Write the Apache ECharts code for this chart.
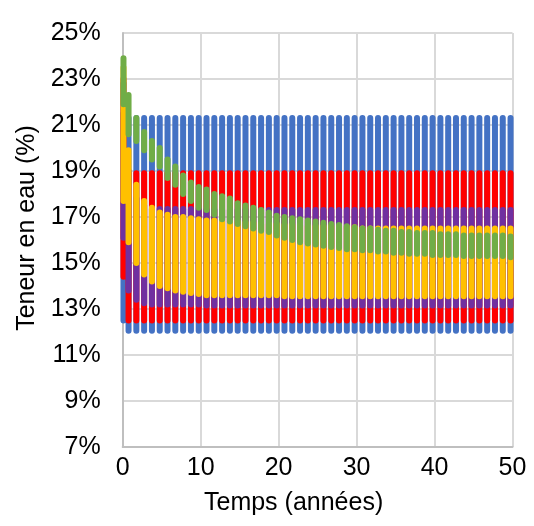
<!DOCTYPE html>
<html>
<head>
<meta charset="utf-8">
<script src="https://cdn.jsdelivr.net/npm/echarts@6/dist/echarts.min.js"></script>
<style>
html,body{margin:0;padding:0;background:#fff;}
#chart{width:534px;height:526px;}
</style>
</head>
<body>
<div id="chart"></div>
<script>
// Time (years) of each annual wet/dry swing
const times = [0.1, 0.75, 1.75, 2.75, 3.75, 4.75, 5.75, 6.75, 7.75, 8.75, 9.75,
  10.75, 11.75, 12.75, 13.75, 14.75, 15.75, 16.75, 17.75, 18.75, 19.75,
  20.75, 21.75, 22.75, 23.75, 24.75, 25.75, 26.75, 27.75, 28.75, 29.75,
  30.75, 31.75, 32.75, 33.75, 34.75, 35.75, 36.75, 37.75, 38.75, 39.75,
  40.75, 41.75, 42.75, 43.75, 44.75, 45.75, 46.75, 47.75, 48.75, 49.75];

// Series 1 (blue)
const blueMax = [21.5, 21.3, 21.3, 21.3, 21.3, 21.3, 21.3, 21.3, 21.3, 21.3, 21.3,
  21.3, 21.3, 21.3, 21.3, 21.3, 21.3, 21.3, 21.3, 21.3, 21.3,
  21.3, 21.3, 21.3, 21.3, 21.3, 21.3, 21.3, 21.3, 21.3, 21.3,
  21.3, 21.3, 21.3, 21.3, 21.3, 21.3, 21.3, 21.3, 21.3, 21.3,
  21.3, 21.3, 21.3, 21.3, 21.3, 21.3, 21.3, 21.3, 21.3, 21.3];
const blueMin = [12.5, 12.05, 12.05, 12.05, 12.05, 12.05, 12.05, 12.05, 12.05, 12.05, 12.05,
  12.05, 12.05, 12.05, 12.05, 12.05, 12.05, 12.05, 12.05, 12.05, 12.05,
  12.05, 12.05, 12.05, 12.05, 12.05, 12.05, 12.05, 12.05, 12.05, 12.05,
  12.05, 12.05, 12.05, 12.05, 12.05, 12.05, 12.05, 12.05, 12.05, 12.05,
  12.05, 12.05, 12.05, 12.05, 12.05, 12.05, 12.05, 12.05, 12.05, 12.05];

// Series 2 (red)
const redMax = [23.0, 18.9, 18.9, 18.9, 18.9, 18.9, 18.9, 18.9, 18.9, 18.9, 18.9,
  18.9, 18.9, 18.9, 18.9, 18.9, 18.9, 18.9, 18.9, 18.9, 18.9,
  18.9, 18.9, 18.9, 18.9, 18.9, 18.9, 18.9, 18.9, 18.9, 18.9,
  18.9, 18.9, 18.9, 18.9, 18.9, 18.9, 18.9, 18.9, 18.9, 18.9,
  18.9, 18.9, 18.9, 18.9, 18.9, 18.9, 18.9, 18.9, 18.9, 18.9];
const redMin = [14.4, 12.5, 12.5, 12.5, 12.5, 12.5, 12.5, 12.5, 12.5, 12.5, 12.5,
  12.5, 12.5, 12.5, 12.5, 12.5, 12.5, 12.5, 12.5, 12.5, 12.5,
  12.5, 12.5, 12.5, 12.5, 12.5, 12.5, 12.5, 12.5, 12.5, 12.5,
  12.5, 12.5, 12.5, 12.5, 12.5, 12.5, 12.5, 12.5, 12.5, 12.5,
  12.5, 12.5, 12.5, 12.5, 12.5, 12.5, 12.5, 12.5, 12.5, 12.5];

// Series 3 (purple)
const purpleMax = [22.8, 19.0, 17.8, 17.5, 17.35, 17.35, 17.35, 17.35, 17.35, 17.35, 17.35,
  17.3, 17.3, 17.3, 17.3, 17.3, 17.3, 17.3, 17.3, 17.3, 17.3,
  17.3, 17.3, 17.3, 17.3, 17.3, 17.3, 17.3, 17.3, 17.3, 17.3,
  17.3, 17.3, 17.3, 17.3, 17.3, 17.3, 17.3, 17.3, 17.3, 17.3,
  17.3, 17.3, 17.3, 17.3, 17.3, 17.3, 17.3, 17.3, 17.3, 17.3];
const purpleMin = [16.1, 13.8, 13.4, 13.25, 13.2, 13.2, 13.2, 13.2, 13.2, 13.2, 13.2,
  13.15, 13.15, 13.15, 13.15, 13.15, 13.15, 13.15, 13.15, 13.15, 13.15,
  13.15, 13.15, 13.15, 13.15, 13.15, 13.15, 13.15, 13.15, 13.15, 13.15,
  13.15, 13.15, 13.15, 13.15, 13.15, 13.15, 13.15, 13.15, 13.15, 13.15,
  13.15, 13.15, 13.15, 13.15, 13.15, 13.15, 13.15, 13.15, 13.15, 13.15];

// Series 4 (yellow)
const yellowMax = [23.5, 19.9, 18.4, 17.7, 17.4, 17.2, 17.1, 17.0, 17.0, 16.95, 16.9,
  16.85, 16.85, 16.8, 16.8, 16.8, 16.75, 16.75, 16.7, 16.7, 16.7,
  16.65, 16.65, 16.65, 16.6, 16.6, 16.6, 16.6, 16.55, 16.55, 16.55,
  16.5, 16.5, 16.5, 16.5, 16.5, 16.5, 16.5, 16.5, 16.5, 16.5,
  16.5, 16.5, 16.5, 16.5, 16.5, 16.5, 16.5, 16.5, 16.5, 16.5];
const yellowMin = [17.7, 15.9, 15.0, 14.5, 14.2, 14.0, 13.9, 13.8, 13.75, 13.7, 13.65,
  13.6, 13.6, 13.6, 13.6, 13.6, 13.6, 13.6, 13.6, 13.6, 13.6,
  13.55, 13.55, 13.55, 13.55, 13.55, 13.55, 13.55, 13.55, 13.55, 13.55,
  13.55, 13.55, 13.55, 13.55, 13.55, 13.55, 13.55, 13.55, 13.55, 13.55,
  13.55, 13.55, 13.55, 13.55, 13.55, 13.55, 13.55, 13.55, 13.55, 13.55];

// Series 5 (green)
const greenMax = [23.9, 22.3, 21.3, 20.7, 20.3, 20.0, 19.5, 19.2, 18.8, 18.5, 18.3,
  18.2, 18.0, 17.9, 17.8, 17.6, 17.5, 17.4, 17.3, 17.2, 17.05,
  17.0, 16.95, 16.9, 16.85, 16.8, 16.75, 16.7, 16.65, 16.6, 16.55,
  16.5, 16.5, 16.45, 16.4, 16.4, 16.35, 16.35, 16.3, 16.3, 16.3,
  16.25, 16.25, 16.25, 16.2, 16.2, 16.2, 16.2, 16.2, 16.2, 16.15];
const greenMin = [21.9, 20.6, 20.3, 19.9, 19.5, 19.2, 18.7, 18.4, 18.0, 17.7, 17.4,
  17.3, 17.1, 16.9, 16.8, 16.7, 16.6, 16.5, 16.4, 16.35, 16.2,
  16.1, 16.0, 15.9, 15.85, 15.8, 15.75, 15.7, 15.65, 15.6, 15.6,
  15.55, 15.55, 15.5, 15.5, 15.45, 15.45, 15.4, 15.4, 15.4, 15.35,
  15.35, 15.35, 15.35, 15.3, 15.3, 15.3, 15.3, 15.3, 15.3, 15.25];

const xTicks = [0, 10, 20, 30, 40, 50];
const yTicks = [7, 9, 11, 13, 15, 17, 19, 21, 23, 25];

function swings(maxArr, minArr) {
  const d = [];
  for (let i = 0; i < times.length; i++) {
    d.push([times[i], minArr[i]]);
    d.push([times[i], maxArr[i]]);
    d.push([times[i], '-']);
  }
  return d;
}

const FONT = "'Liberation Sans', Arial, sans-serif";
const FS = 25;
const chart = echarts.init(document.getElementById('chart'), null, {renderer: 'canvas'});

function mk(name, color, maxArr, minArr) {
  return {
    name: name, type: 'line', data: swings(maxArr, minArr),
    showSymbol: false, symbol: 'none', connectNulls: false,
    lineStyle: {color: color, width: 6, cap: 'round', join: 'round'},
    itemStyle: {color: color}, animation: false, silent: true
  };
}

chart.setOption({
  animation: false,
  backgroundColor: '#fff',
  grid: {left: 122.7, right: 21.5, top: 33, bottom: 79, containLabel: false},
  xAxis: {
    type: 'value', min: xTicks[0], max: xTicks[xTicks.length - 1], interval: 10,
    name: 'Temps (années)', nameLocation: 'middle', nameGap: 44,
    nameTextStyle: {fontFamily: FONT, fontSize: FS, color: '#000', padding: [0, 48, 0, 0]},
    axisLine: {show: true, lineStyle: {color: '#bfbfbf', width: 2}},
    axisTick: {show: false},
    axisLabel: {fontFamily: FONT, fontSize: FS, color: '#000', margin: 9},
    splitLine: {show: true, lineStyle: {color: '#d9d9d9', width: 2}}
  },
  yAxis: {
    type: 'value', min: yTicks[0], max: yTicks[yTicks.length - 1], interval: 2,
    name: 'Teneur en eau (%)', nameLocation: 'middle', nameGap: 83,
    nameTextStyle: {fontFamily: FONT, fontSize: FS, color: '#000', padding: [0, 0, 0, 24]},
    axisLine: {show: true, lineStyle: {color: '#bfbfbf', width: 2}},
    axisTick: {show: false},
    axisLabel: {fontFamily: FONT, fontSize: FS, color: '#000', margin: 22,
      formatter: function (v) { return v + '%'; }},
    splitLine: {show: true, lineStyle: {color: '#d9d9d9', width: 2}}
  },
  series: [
    mk('S1', '#4472C4', blueMax, blueMin),
    mk('S2', '#FF0000', redMax, redMin),
    mk('S3', '#7030A0', purpleMax, purpleMin),
    mk('S4', '#FFC000', yellowMax, yellowMin),
    mk('S5', '#70AD47', greenMax, greenMin)
  ]
});
</script>
</body>
</html>
